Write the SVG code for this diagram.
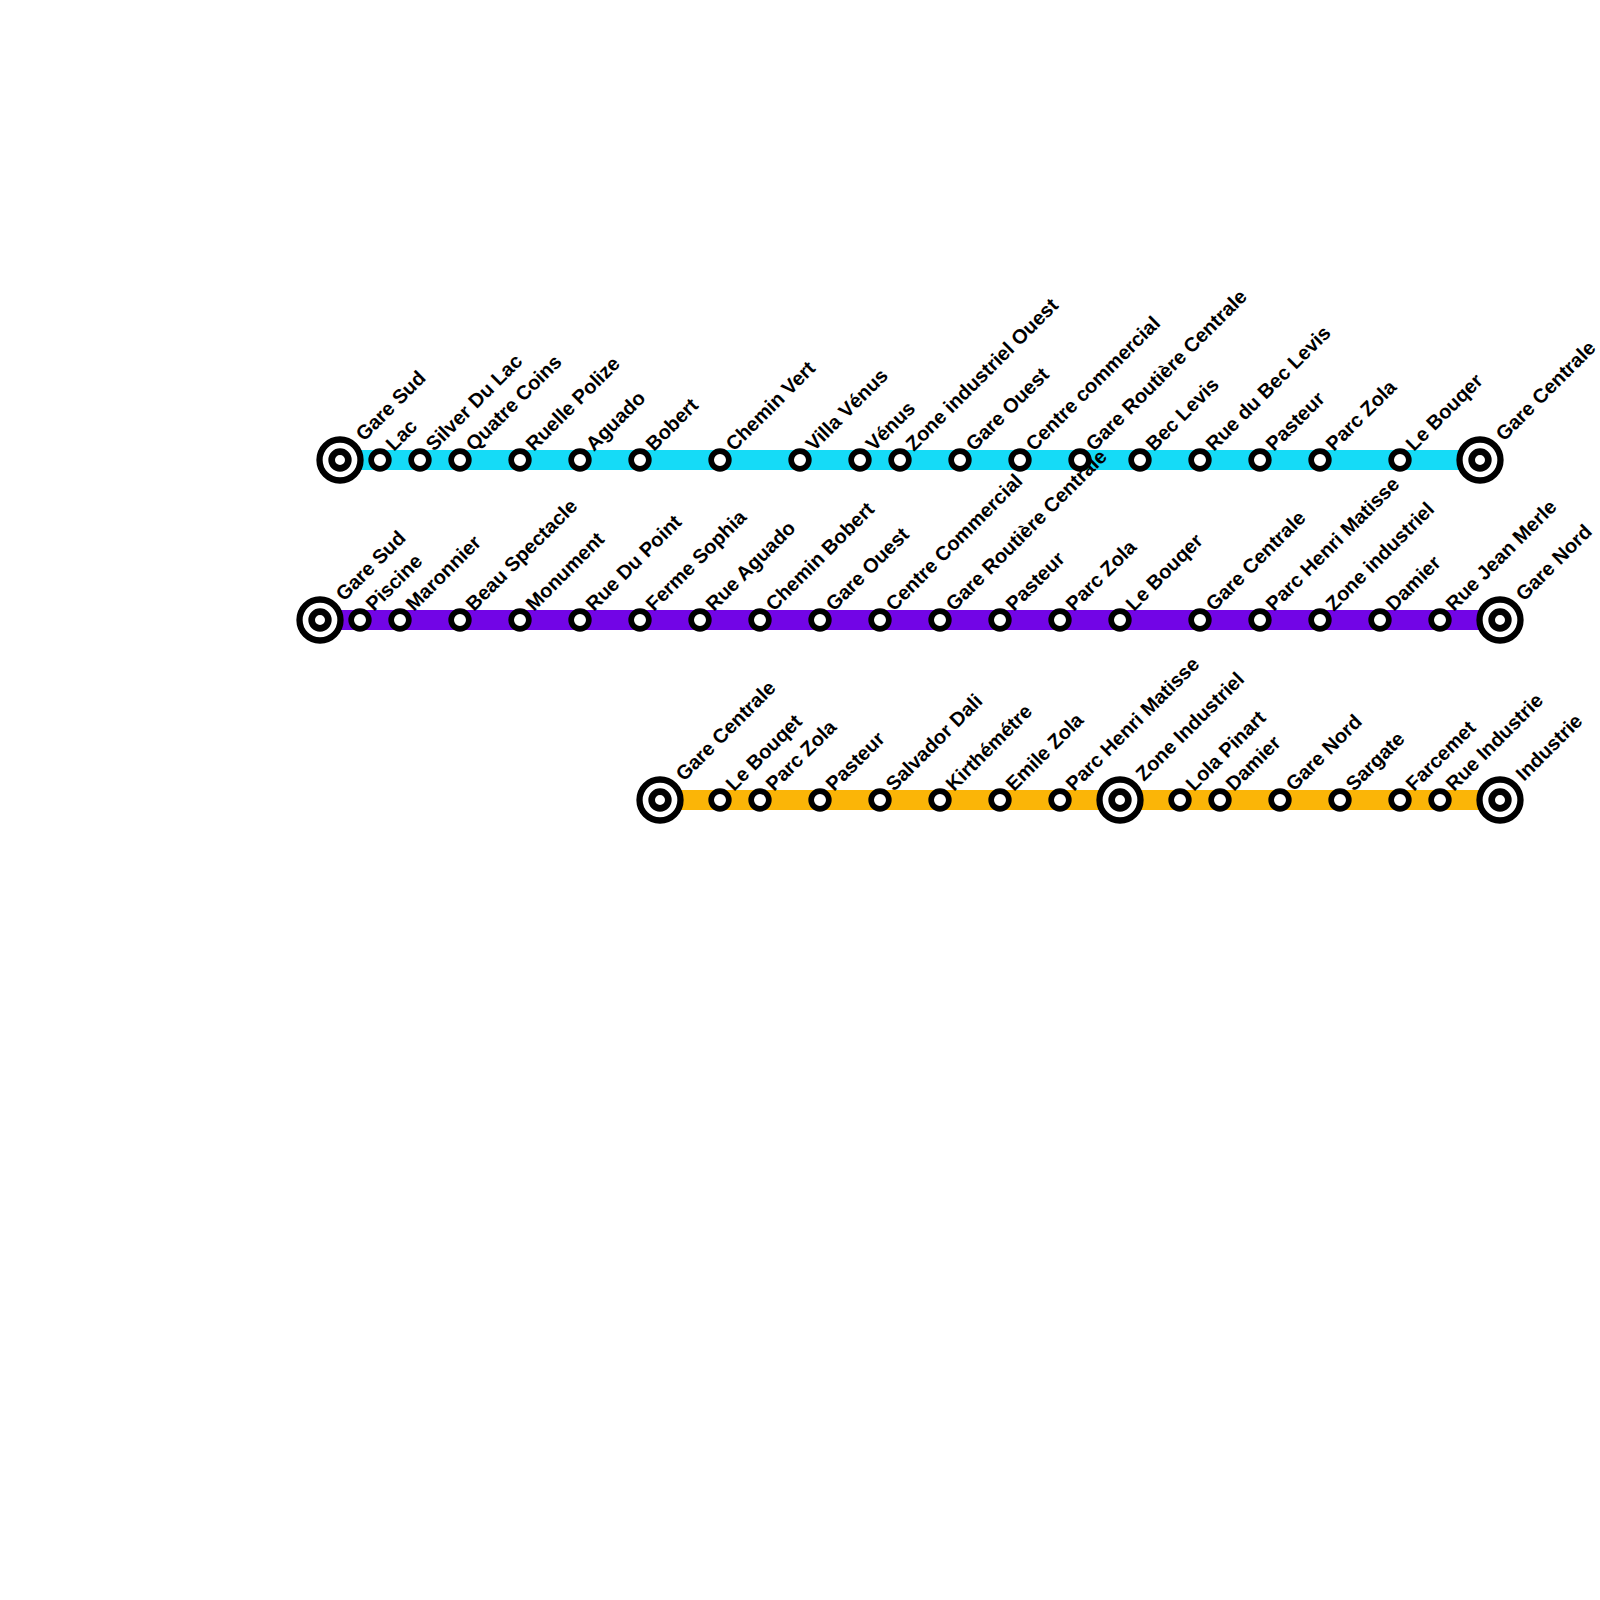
<svg xmlns="http://www.w3.org/2000/svg" width="1600" height="1600" viewBox="0 0 1600 1600">
<style>
.l{fill:none;stroke-width:20}
.s{fill:#fff;stroke:#000;stroke-width:5.67}
.o{fill:#fff;stroke:#000;stroke-width:6.3}
.i{fill:#fff;stroke:#000;stroke-width:6.67}
text{font-family:"Liberation Sans",Arial,sans-serif;font-size:20px;font-weight:bold;fill:#000}
</style>
<rect width="1600" height="1600" fill="#fff"/>
<g id="connectors">
<line class="l" x1="340" y1="460" x2="1480" y2="460" stroke="#15dbf7"/>
<line class="l" x1="320" y1="620" x2="1500" y2="620" stroke="#7205e6"/>
<line class="l" x1="660" y1="800" x2="1500" y2="800" stroke="#fbb507"/>
</g>
<g id="a1"><circle class="o" cx="340" cy="460" r="20.5"/><circle class="i" cx="340" cy="460" r="8.33"/><text transform="translate(364 442) rotate(-45)">Gare Sud</text></g>
<g id="a2"><circle class="s" cx="380" cy="460" r="8.83"/><text transform="translate(394 452) rotate(-45)">Lac</text></g>
<g id="a3"><circle class="s" cx="420" cy="460" r="8.83"/><text transform="translate(434 452) rotate(-45)">Silver Du Lac</text></g>
<g id="a4"><circle class="s" cx="460" cy="460" r="8.83"/><text transform="translate(474 452) rotate(-45)">Quatre Coins</text></g>
<g id="a5"><circle class="s" cx="520" cy="460" r="8.83"/><text transform="translate(534 452) rotate(-45)">Ruelle Polize</text></g>
<g id="a6"><circle class="s" cx="580" cy="460" r="8.83"/><text transform="translate(594 452) rotate(-45)">Aguado</text></g>
<g id="a7"><circle class="s" cx="640" cy="460" r="8.83"/><text transform="translate(654 452) rotate(-45)">Bobert</text></g>
<g id="a8"><circle class="s" cx="720" cy="460" r="8.83"/><text transform="translate(734 452) rotate(-45)">Chemin Vert</text></g>
<g id="a9"><circle class="s" cx="800" cy="460" r="8.83"/><text transform="translate(814 452) rotate(-45)">Villa Vénus</text></g>
<g id="a10"><circle class="s" cx="860" cy="460" r="8.83"/><text transform="translate(874 452) rotate(-45)">Vénus</text></g>
<g id="a11"><circle class="s" cx="900" cy="460" r="8.83"/><text transform="translate(914 452) rotate(-45)">Zone industriel Ouest</text></g>
<g id="a12"><circle class="s" cx="960" cy="460" r="8.83"/><text transform="translate(974 452) rotate(-45)">Gare Ouest</text></g>
<g id="a13"><circle class="s" cx="1020" cy="460" r="8.83"/><text transform="translate(1034 452) rotate(-45)">Centre commercial</text></g>
<g id="a14"><circle class="s" cx="1080" cy="460" r="8.83"/><text transform="translate(1094 452) rotate(-45)">Gare Routière Centrale</text></g>
<g id="a15"><circle class="s" cx="1140" cy="460" r="8.83"/><text transform="translate(1154 452) rotate(-45)">Bec Levis</text></g>
<g id="a16"><circle class="s" cx="1200" cy="460" r="8.83"/><text transform="translate(1214 452) rotate(-45)">Rue du Bec Levis</text></g>
<g id="a17"><circle class="s" cx="1260" cy="460" r="8.83"/><text transform="translate(1274 452) rotate(-45)">Pasteur</text></g>
<g id="a18"><circle class="s" cx="1320" cy="460" r="8.83"/><text transform="translate(1334 452) rotate(-45)">Parc Zola</text></g>
<g id="a19"><circle class="s" cx="1400" cy="460" r="8.83"/><text transform="translate(1414 452) rotate(-45)">Le Bouqer</text></g>
<g id="a20"><circle class="o" cx="1480" cy="460" r="20.5"/><circle class="i" cx="1480" cy="460" r="8.33"/><text transform="translate(1504 442) rotate(-45)">Gare Centrale</text></g>
<g id="b1"><circle class="o" cx="320" cy="620" r="20.5"/><circle class="i" cx="320" cy="620" r="8.33"/><text transform="translate(344 602) rotate(-45)">Gare Sud</text></g>
<g id="b2"><circle class="s" cx="360" cy="620" r="8.83"/><text transform="translate(374 612) rotate(-45)">Piscine</text></g>
<g id="b3"><circle class="s" cx="400" cy="620" r="8.83"/><text transform="translate(414 612) rotate(-45)">Maronnier</text></g>
<g id="b4"><circle class="s" cx="460" cy="620" r="8.83"/><text transform="translate(474 612) rotate(-45)">Beau Spectacle</text></g>
<g id="b5"><circle class="s" cx="520" cy="620" r="8.83"/><text transform="translate(534 612) rotate(-45)">Monument</text></g>
<g id="b6"><circle class="s" cx="580" cy="620" r="8.83"/><text transform="translate(594 612) rotate(-45)">Rue Du Point</text></g>
<g id="b7"><circle class="s" cx="640" cy="620" r="8.83"/><text transform="translate(654 612) rotate(-45)">Ferme Sophia</text></g>
<g id="b8"><circle class="s" cx="700" cy="620" r="8.83"/><text transform="translate(714 612) rotate(-45)">Rue Aguado</text></g>
<g id="b9"><circle class="s" cx="760" cy="620" r="8.83"/><text transform="translate(774 612) rotate(-45)">Chemin Bobert</text></g>
<g id="b10"><circle class="s" cx="820" cy="620" r="8.83"/><text transform="translate(834 612) rotate(-45)">Gare Ouest</text></g>
<g id="b11"><circle class="s" cx="880" cy="620" r="8.83"/><text transform="translate(894 612) rotate(-45)">Centre Commercial</text></g>
<g id="b12"><circle class="s" cx="940" cy="620" r="8.83"/><text transform="translate(954 612) rotate(-45)">Gare Routière Centrale</text></g>
<g id="b13"><circle class="s" cx="1000" cy="620" r="8.83"/><text transform="translate(1014 612) rotate(-45)">Pasteur</text></g>
<g id="b14"><circle class="s" cx="1060" cy="620" r="8.83"/><text transform="translate(1074 612) rotate(-45)">Parc Zola</text></g>
<g id="b15"><circle class="s" cx="1120" cy="620" r="8.83"/><text transform="translate(1134 612) rotate(-45)">Le Bouqer</text></g>
<g id="b16"><circle class="s" cx="1200" cy="620" r="8.83"/><text transform="translate(1214 612) rotate(-45)">Gare Centrale</text></g>
<g id="b17"><circle class="s" cx="1260" cy="620" r="8.83"/><text transform="translate(1274 612) rotate(-45)">Parc Henri Matisse</text></g>
<g id="b18"><circle class="s" cx="1320" cy="620" r="8.83"/><text transform="translate(1334 612) rotate(-45)">Zone industriel</text></g>
<g id="b19"><circle class="s" cx="1380" cy="620" r="8.83"/><text transform="translate(1394 612) rotate(-45)">Damier</text></g>
<g id="b20"><circle class="s" cx="1440" cy="620" r="8.83"/><text transform="translate(1454 612) rotate(-45)">Rue Jean Merle</text></g>
<g id="b21"><circle class="o" cx="1500" cy="620" r="20.5"/><circle class="i" cx="1500" cy="620" r="8.33"/><text transform="translate(1524 602) rotate(-45)">Gare Nord</text></g>
<g id="c1"><circle class="o" cx="660" cy="800" r="20.5"/><circle class="i" cx="660" cy="800" r="8.33"/><text transform="translate(684 782) rotate(-45)">Gare Centrale</text></g>
<g id="c2"><circle class="s" cx="720" cy="800" r="8.83"/><text transform="translate(734 792) rotate(-45)">Le Bouqet</text></g>
<g id="c3"><circle class="s" cx="760" cy="800" r="8.83"/><text transform="translate(774 792) rotate(-45)">Parc Zola</text></g>
<g id="c4"><circle class="s" cx="820" cy="800" r="8.83"/><text transform="translate(834 792) rotate(-45)">Pasteur</text></g>
<g id="c5"><circle class="s" cx="880" cy="800" r="8.83"/><text transform="translate(894 792) rotate(-45)">Salvador Dali</text></g>
<g id="c6"><circle class="s" cx="940" cy="800" r="8.83"/><text transform="translate(954 792) rotate(-45)">Kirthémétre</text></g>
<g id="c7"><circle class="s" cx="1000" cy="800" r="8.83"/><text transform="translate(1014 792) rotate(-45)">Emile Zola</text></g>
<g id="c8"><circle class="s" cx="1060" cy="800" r="8.83"/><text transform="translate(1074 792) rotate(-45)">Parc Henri Matisse</text></g>
<g id="c9"><circle class="o" cx="1120" cy="800" r="20.5"/><circle class="i" cx="1120" cy="800" r="8.33"/><text transform="translate(1144 782) rotate(-45)">Zone Industriel</text></g>
<g id="c10"><circle class="s" cx="1180" cy="800" r="8.83"/><text transform="translate(1194 792) rotate(-45)">Lola Pinart</text></g>
<g id="c11"><circle class="s" cx="1220" cy="800" r="8.83"/><text transform="translate(1234 792) rotate(-45)">Damier</text></g>
<g id="c12"><circle class="s" cx="1280" cy="800" r="8.83"/><text transform="translate(1294 792) rotate(-45)">Gare Nord</text></g>
<g id="c13"><circle class="s" cx="1340" cy="800" r="8.83"/><text transform="translate(1354 792) rotate(-45)">Sargate</text></g>
<g id="c14"><circle class="s" cx="1400" cy="800" r="8.83"/><text transform="translate(1414 792) rotate(-45)">Farcemet</text></g>
<g id="c15"><circle class="s" cx="1440" cy="800" r="8.83"/><text transform="translate(1454 792) rotate(-45)">Rue Industrie</text></g>
<g id="c16"><circle class="o" cx="1500" cy="800" r="20.5"/><circle class="i" cx="1500" cy="800" r="8.33"/><text transform="translate(1524 782) rotate(-45)">Industrie</text></g>
</svg>
